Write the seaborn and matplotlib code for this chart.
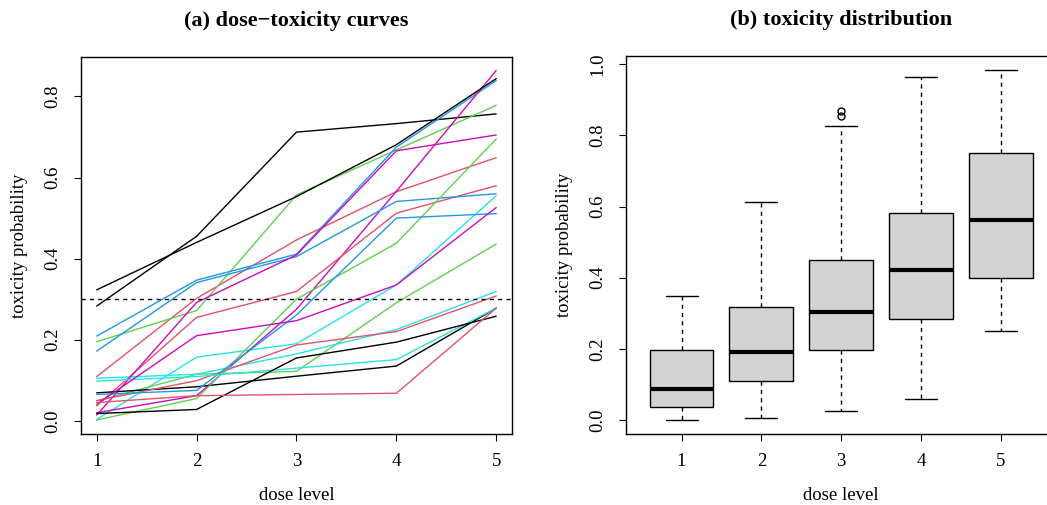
import matplotlib
matplotlib.use("Agg")
import matplotlib.pyplot as plt
import seaborn as sns
import pandas as pd

dose_levels = [1, 2, 3, 4, 5]

# toxicity probability of each of the 20 curves at dose 1..5
tox_d1 = [0.283, 0.109, 0.195, 0.209, 0.003, 0.020, 0.323, 0.037, 0.049, 0.172,
          0.105, 0.014, 0.069, 0.050, 0.002, 0.065, 0.098, 0.041, 0.018, 0.045]
tox_d2 = [0.455, 0.302, 0.272, 0.347, 0.157, 0.062, 0.440, 0.255, 0.115, 0.341,
          0.115, 0.292, 0.084, 0.099, 0.055, 0.075, 0.109, 0.210, 0.028, 0.062]
tox_d3 = [0.712, 0.446, 0.557, 0.411, 0.190, 0.275, 0.553, 0.319, 0.122, 0.405,
          0.165, 0.409, 0.110, 0.187, 0.300, 0.261, 0.130, 0.247, 0.155, 0.065]
tox_d4 = [0.733, 0.565, 0.668, 0.675, 0.335, 0.566, 0.681, 0.512, 0.291, 0.541,
          0.225, 0.666, 0.135, 0.220, 0.438, 0.500, 0.151, 0.335, 0.194, 0.068]
tox_d5 = [0.757, 0.649, 0.778, 0.839, 0.555, 0.864, 0.844, 0.580, 0.436, 0.560,
          0.319, 0.705, 0.278, 0.308, 0.695, 0.511, 0.278, 0.526, 0.258, 0.278]

curve_colors = ["#000000", "#DF536B", "#61D04F", "#2297E6", "#28E2E5", "#CD0BBC"]
target_tox = 0.3

# box summaries per dose level
box_lo = [0.000, 0.006, 0.025, 0.060, 0.251]
box_q1 = [0.038, 0.111, 0.196, 0.284, 0.400]
box_med = [0.087, 0.192, 0.305, 0.423, 0.561]
box_q3 = [0.197, 0.318, 0.451, 0.581, 0.750]
box_hi = [0.348, 0.612, 0.826, 0.965, 0.984]
outliers_d3 = [0.854, 0.868]

sns.set_style("ticks")
plt.rcParams['font.family'] = ['Liberation Serif', 'DejaVu Serif']
plt.rcParams['font.size'] = 13.5
plt.rcParams['text.color'] = 'black'
plt.rcParams['axes.labelcolor'] = 'black'
plt.rcParams['xtick.color'] = 'black'
plt.rcParams['ytick.color'] = 'black'

# long-form table for the curves
tox_cols = [tox_d1, tox_d2, tox_d3, tox_d4, tox_d5]
rows = []
for i in range(len(tox_d1)):
    for d, col in zip(dose_levels, tox_cols):
        rows.append({'curve': i, 'dose': d, 'tox': col[i]})
curves = pd.DataFrame(rows)
palette = [curve_colors[i % 6] for i in range(len(tox_d1))]

# long-form table for the boxes (repeated quartiles reproduce the summary)
brows = []
for k, d in enumerate(dose_levels):
    vals = [box_lo[k]] + [box_q1[k]] * 3 + [box_med[k]] * 3 + [box_q3[k]] * 3 + [box_hi[k]]
    if d == 3:
        vals = vals + outliers_d3
    for v in vals:
        brows.append({'dose': str(d), 'tox': v})
boxes = pd.DataFrame(brows)

fig = plt.figure(figsize=(10.47, 5.05), dpi=100)
ax1 = fig.add_axes([0.0771, 0.1406, 0.4121, 0.7471])
ax2 = fig.add_axes([0.5976, 0.1406, 0.4116, 0.7485])

sns.lineplot(data=curves, x='dose', y='tox', hue='curve', palette=palette,
             estimator=None, sort=False, legend=False, linewidth=1.0, ax=ax1)
ax1.axhline(target_tox, color='black', linewidth=1.0, linestyle=(0, (3, 3)))
ax1.set_xlim(0.84, 5.16)
ax1.set_ylim(-0.0325, 0.898)
ax1.set_xticks(dose_levels)
ax1.set_yticks([0.0, 0.2, 0.4, 0.6, 0.8])
ax1.set_yticklabels(['0.0', '0.2', '0.4', '0.6', '0.8'])
ax1.set_title("(a) dose\u2212toxicity curves", fontsize=16, fontweight='bold', pad=22)

sns.boxplot(data=boxes, x='dose', y='tox', color='#D3D3D3', linecolor='black',
            linewidth=1.0, width=0.8, whis=1.5, fliersize=5, ax=ax2,
            medianprops=dict(linewidth=3, color='black'),
            whiskerprops=dict(linestyle=(0, (3, 3))),
            flierprops=dict(marker='o', markerfacecolor='none', markeredgecolor='black',
                            markeredgewidth=1.0))
ax2.set_xlim(-0.7, 4.7)
ax2.set_ylim(-0.039, 1.023)
ax2.set_yticks([0.0, 0.2, 0.4, 0.6, 0.8, 1.0])
ax2.set_yticklabels(['0.0', '0.2', '0.4', '0.6', '0.8', '1.0'])
ax2.set_title("(b) toxicity distribution", fontsize=16, fontweight='bold', pad=22)

for ax in (ax1, ax2):
    ax.set_xlabel("dose level", labelpad=12)
    ax.set_ylabel("toxicity probability", labelpad=12)
    ax.tick_params(direction='out', length=5, width=0.8, pad=9, labelsize=13.5)
    for lbl in ax.get_yticklabels():
        lbl.set_rotation(90)
        lbl.set_va('center')
    for s in ax.spines.values():
        s.set_visible(True)
        s.set_linewidth(1.0)
        s.set_color('black')
    ax.grid(False)

fig.savefig("out.png", dpi=100)
